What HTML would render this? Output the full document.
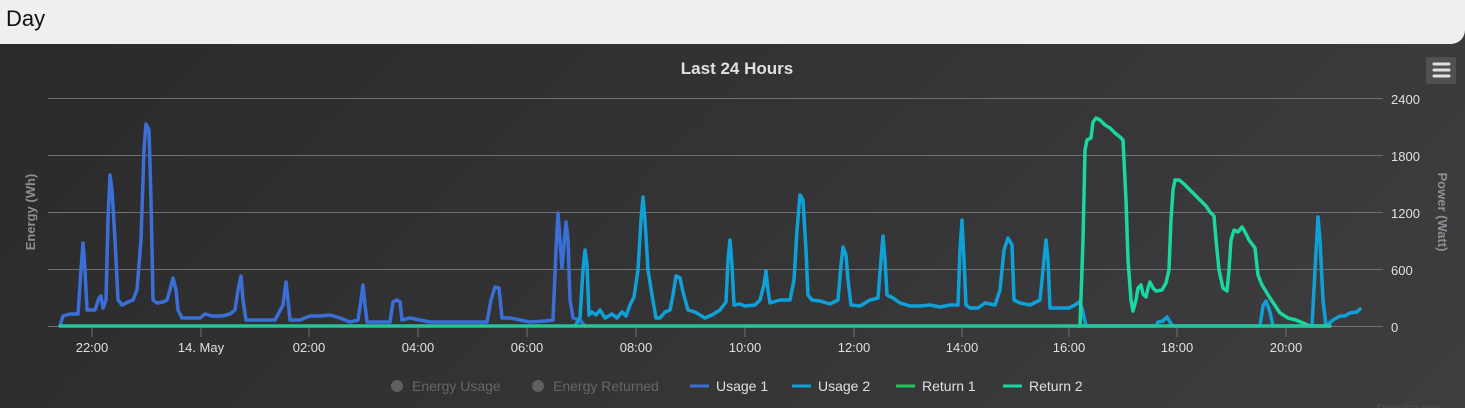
<!DOCTYPE html>
<html><head><meta charset="utf-8"><style>
html,body{margin:0;padding:0;width:1465px;height:408px;overflow:hidden;background:#3a3a3c;font-family:"Liberation Sans",sans-serif}
.hdr{position:absolute;left:0;top:0;width:1465px;height:44px;background:#efefef;border-bottom-right-radius:14px;z-index:2}
.hdr span{position:absolute;left:6px;top:6px;font-size:22px;color:#111}
.panel{position:absolute;left:0;top:30px;width:1465px;height:378px;background:linear-gradient(135deg,#2a2a2b 0%,#3e3e40 100%)}
svg{position:absolute;left:0;top:0}
</style></head><body>
<div class="panel"></div>
<div class="hdr"><span>Day</span></div>
<svg width="1465" height="408" viewBox="0 0 1465 408">
<g stroke="#707073" stroke-width="1">
<line x1="48" y1="98.5" x2="1383" y2="98.5"/>
<line x1="48" y1="155.5" x2="1383" y2="155.5"/>
<line x1="48" y1="212.5" x2="1383" y2="212.5"/>
<line x1="48" y1="269.5" x2="1383" y2="269.5"/>
<line x1="48" y1="326.5" x2="1383" y2="326.5"/>
</g>
<g stroke="#707073" stroke-width="1">
<line x1="92" y1="327" x2="92" y2="337"/><line x1="201" y1="327" x2="201" y2="337"/><line x1="309" y1="327" x2="309" y2="337"/><line x1="418" y1="327" x2="418" y2="337"/><line x1="527" y1="327" x2="527" y2="337"/><line x1="636" y1="327" x2="636" y2="337"/><line x1="745" y1="327" x2="745" y2="337"/><line x1="854" y1="327" x2="854" y2="337"/><line x1="962" y1="327" x2="962" y2="337"/><line x1="1069" y1="327" x2="1069" y2="337"/><line x1="1177" y1="327" x2="1177" y2="337"/><line x1="1286" y1="327" x2="1286" y2="337"/>
</g>
<g fill="#e0e0e3" font-size="13" text-anchor="middle">
<text x="92" y="352">22:00</text><text x="201" y="352">14. May</text><text x="309" y="352">02:00</text><text x="418" y="352">04:00</text><text x="527" y="352">06:00</text><text x="636" y="352">08:00</text><text x="745" y="352">10:00</text><text x="854" y="352">12:00</text><text x="962" y="352">14:00</text><text x="1069" y="352">16:00</text><text x="1177" y="352">18:00</text><text x="1286" y="352">20:00</text>
</g>
<g fill="#e0e0e3" font-size="13">
<text x="1391" y="104">2400</text><text x="1391" y="161">1800</text><text x="1391" y="218">1200</text><text x="1391" y="275">600</text><text x="1391" y="332">0</text>
</g>
<text x="737" y="74" fill="#e0e0e3" font-size="17" font-weight="bold" text-anchor="middle">Last 24 Hours</text>
<text transform="translate(35,212) rotate(-90)" fill="#8e8e92" font-size="13" font-weight="bold" text-anchor="middle">Energy (Wh)</text>
<text transform="translate(1438,212) rotate(90)" fill="#8e8e92" font-size="13" font-weight="bold" text-anchor="middle">Power (Watt)</text>
<rect x="1426" y="57" width="30" height="27" rx="2" fill="#505053"/>
<g stroke="#e0e0e3" stroke-width="3" stroke-linecap="round"><line x1="1434" y1="64" x2="1449" y2="64"/><line x1="1434" y1="70" x2="1449" y2="70"/><line x1="1434" y1="76" x2="1449" y2="76"/></g>
<g fill="none" stroke-width="3.5" stroke-linejoin="round" stroke-linecap="round">
<polyline stroke="#3a6fd8" points="60,326 63,316 70,314 78,314 81,270 83,243 85,270 87,310 95,310 99,298 101,296 103,308 106,300 108,220 110,175 112,190 115,240 118,300 122,305 128,302 133,300 137,290 141,240 144,150 146,124 149,130 151,200 153,300 157,303 163,302 167,300 170,290 173,278 176,290 178,310 182,318 190,318 200,318 205,314 212,316 222,316 230,314 235,310 238,290 241,276 243,300 246,320 260,320 275,320 283,305 286,282 288,300 290,320 300,320 310,316 320,316 330,315 340,318 350,322 358,320 361,300 363,285 365,305 367,322 380,322 390,322 393,302 397,300 400,302 402,320 410,318 420,320 430,322 440,322 450,322 460,322 475,322 487,322 491,300 495,287 499,288 502,318 510,318 520,320 530,322 545,321 553,320 556,250 558,213 560,240 562,268 564,245 566,222 568,240 570,300 573,318 580,320 585,326"/>
<polyline stroke="#0fa0d8" points="575,326 580,318 583,270 585,250 587,265 589,315 592,312 596,315 600,310 605,318 612,314 617,318 622,312 626,316 630,305 634,297 638,270 641,220 643,197 645,220 648,270 652,295 656,318 660,318 665,312 670,310 673,295 676,276 680,278 683,292 688,310 695,312 700,315 705,318 712,315 720,310 726,302 728,260 730,240 732,265 734,305 740,304 745,306 755,305 760,300 764,285 766,271 768,290 770,303 780,300 790,300 794,280 797,230 800,195 803,200 806,250 808,295 812,300 820,301 830,304 838,300 841,265 843,247 846,255 848,280 851,305 860,306 870,300 878,298 881,260 883,236 885,260 887,295 893,298 900,303 910,306 920,306 930,305 940,307 950,305 958,305 960,250 962,220 964,260 966,305 970,308 978,308 985,303 995,305 1000,290 1004,250 1008,238 1012,245 1014,300 1020,303 1030,305 1040,300 1044,260 1046,240 1048,260 1050,308 1060,308 1069,308 1075,305 1079,302 1082,308 1086,326 1156,326 1158,322 1163,321 1167,317 1170,322 1173,326 1260,326 1263,306 1266,301 1270,312 1273,326 1312,326 1315,270 1318,217 1320,240 1323,300 1326,326 1333,320 1340,316 1345,316 1348,314 1350,313 1357,312 1360,309"/>
<polyline stroke="#1ad6a0" points="1078,326 1080,326 1083,240 1085,150 1087,140 1091,138 1093,122 1096,118 1100,120 1105,125 1110,128 1115,133 1120,137 1123,140 1126,200 1128,260 1131,300 1133,311 1136,300 1138,288 1141,285 1143,294 1146,297 1148,288 1150,282 1153,288 1156,291 1162,290 1166,283 1169,270 1171,220 1173,190 1175,180 1179,180 1183,183 1186,186 1190,190 1195,195 1200,200 1206,206 1210,212 1214,216 1216,240 1219,270 1223,288 1227,291 1229,270 1231,240 1234,230 1238,232 1242,227 1245,232 1249,240 1255,248 1258,275 1262,285 1270,298 1280,313 1288,318 1296,320 1303,323 1310,326 1330,326"/>
<polyline stroke="#22c69a" points="60,326 1330,326"/>
</g>
<g font-size="14">
<circle cx="397" cy="386" r="6" fill="#606063"/><text x="412" y="391" fill="#666">Energy Usage</text>
<circle cx="538" cy="386" r="6" fill="#606063"/><text x="553" y="391" fill="#666">Energy Returned</text>
<line x1="690" y1="386" x2="709" y2="386" stroke="#3a6fd8" stroke-width="3"/><text x="716" y="391" fill="#e0e0e3">Usage 1</text>
<line x1="792" y1="386" x2="811" y2="386" stroke="#0fa0d8" stroke-width="3"/><text x="818" y="391" fill="#e0e0e3">Usage 2</text>
<line x1="896" y1="386" x2="915" y2="386" stroke="#22c65e" stroke-width="3"/><text x="922" y="391" fill="#e0e0e3">Return 1</text>
<line x1="1003" y1="386" x2="1022" y2="386" stroke="#1ad6a0" stroke-width="3"/><text x="1029" y="391" fill="#e0e0e3">Return 2</text>
</g>
<text x="1377" y="411" fill="#555" font-size="10">Domoticz.com</text>
</svg>
</body></html>
